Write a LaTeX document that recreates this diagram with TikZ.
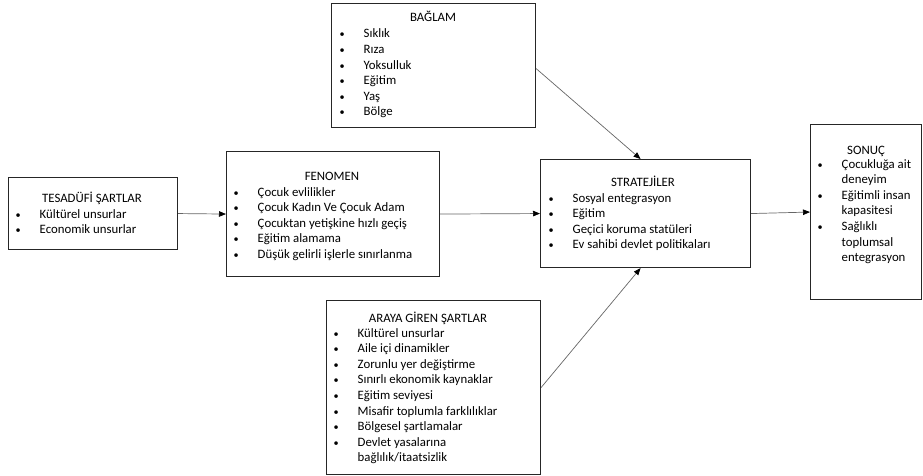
\documentclass[tikz,border=0pt]{standalone}
\usepackage{fontspec}
\setmainfont{Carlito}
\usetikzlibrary{arrows.meta}
\newcommand\bl{\makebox[0pt]{\scalebox{0.8}{\textbullet}}}
\newcommand\blist[1]{\begin{tabular}[t]{@{}p{21.5pt}@{}l@{}}#1\end{tabular}}
\begin{document}
\begin{tikzpicture}[x=1pt,y=-1pt,
  font=\fontsize{12.8}{15.6}\selectfont,
  box/.style={draw=black!85, line width=1.1pt, anchor=north west, inner sep=0pt},
  ttl/.style={anchor=base, inner sep=0pt},
  lst/.style={anchor=base west, inner sep=0pt},
  arr/.style={draw=black!60, line width=0.7pt, -{Triangle[length=7pt,width=5.5pt,color=black]}}]
\useasboundingbox (0,0) rectangle (923,476);

% boxes
\node[box, minimum width=169pt, minimum height=72pt]  (tes) at (8,177) {};
\node[box, minimum width=213pt, minimum height=125pt] (fen) at (226,151) {};
\node[box, minimum width=204pt, minimum height=124pt] (bag) at (331,3) {};
\node[box, minimum width=210pt, minimum height=108pt] (str) at (540,159) {};
\node[box, minimum width=111pt, minimum height=175pt] (son) at (810,124) {};
\node[box, minimum width=214pt, minimum height=174pt] (ara) at (326,300) {};

% titles
\node[ttl] (tes-t) at (92,202) {TESADÜFİ ŞARTLAR};
\node[ttl] (fen-t) at (332,180) {FENOMEN};
\node[ttl] (bag-t) at (433,22) {BAĞLAM};
\node[ttl] (str-t) at (643,186) {STRATEJİLER};
\node[ttl] (son-t) at (866,154) {SONUÇ};
\node[ttl] (ara-t) at (428,322) {ARAYA GİREN ŞARTLAR};

% lists
\node[lst] (tes-l) at (18,218) {\blist{
  \bl & Kültürel unsurlar\\
  \bl & Economik unsurlar}};
\node[lst] (fen-l) at (236,196) {\blist{
  \bl & Çocuk evlilikler\\
  \bl & Çocuk Kadın Ve Çocuk Adam\\
  \bl & Çocuktan yetişkine hızlı geçiş\\
  \bl & Eğitim alamama\\
  \bl & Düşük gelirli işlerle sınırlanma}};
\node[lst] (bag-l) at (342,38) {\blist{
  \bl & Sıklık\\
  \bl & Rıza\\
  \bl & Yoksulluk\\
  \bl & Eğitim\\
  \bl & Yaş\\
  \bl & Bölge}};
\node[lst] (str-l) at (551,202) {\blist{
  \bl & Sosyal entegrasyon\\
  \bl & Eğitim\\
  \bl & Geçici koruma statüleri\\
  \bl & Ev sahibi devlet politikaları}};
\node[lst] (son-l) at (820,168) {\blist{
  \bl & Çocukluğa ait\\
      & deneyim\\
  \bl & Eğitimli insan\\
      & kapasitesi\\
  \bl & Sağlıklı\\
      & toplumsal\\
      & entegrasyon}};
\node[lst] (ara-l) at (336,337) {\blist{
  \bl & Kültürel unsurlar\\
  \bl & Aile içi dinamikler\\
  \bl & Zorunlu yer değiştirme\\
  \bl & Sınırlı ekonomik kaynaklar\\
  \bl & Eğitim seviyesi\\
  \bl & Misafir toplumla farklılıklar\\
  \bl & Bölgesel şartlamalar\\
  \bl & Devlet yasalarına\\
      & bağlılık/itaatsizlik}};

% connectors
\draw[arr] (tes.east) -- (fen.west);
\draw[arr] (fen.east) -- (str.west);
\draw[arr] ([yshift=-3pt]bag.east) -- ([xshift=-5pt]str.north);
\draw[arr] (ara.east) -- ([xshift=-5pt]str.south);
\draw[arr] (str.east) -- (son.west);
\end{tikzpicture}
\end{document}
